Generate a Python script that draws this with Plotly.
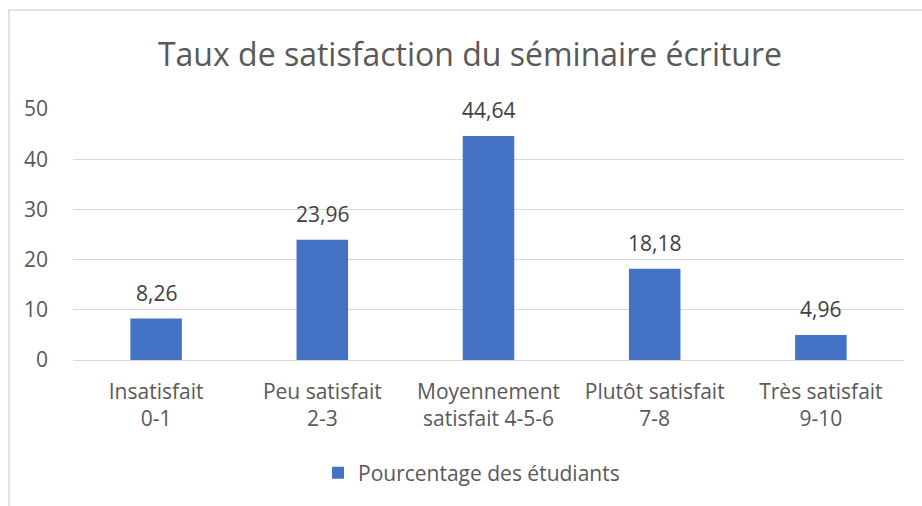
import plotly.graph_objects as go

categories = ["Insatisfait<br>0-1", "Peu satisfait<br>2-3", "Moyennement<br>satisfait 4-5-6",
              "Plutôt satisfait<br>7-8", "Très satisfait<br>9-10"]
pourcentages = [8.26, 23.96, 44.64, 18.18, 4.96]
y_ticks = [0, 10, 20, 30, 40, 50]

W, H = 922, 506
L, R, T, B = 73, 18, 109, 146
pw, ph = W - L - R, H - T - B

FONT = "Open Sans, sans-serif"
GREY = "#595959"
FS = 21

fig = go.Figure(go.Bar(
    x=categories, y=pourcentages, name="Pourcentage des étudiants",
    marker=dict(color="#4472C4", line=dict(width=0)),
    width=0.31, hoverinfo="x+y",
))

# étiquettes de données au-dessus des barres
for cat, val in zip(categories, pourcentages):
    fig.add_annotation(x=cat, y=val, text=f"{val:.2f}".replace(".", ","),
                       showarrow=False, yanchor="bottom", yshift=10,
                       font=dict(size=FS, color="#404040", family=FONT))

# cadre gris clair du graphique (coupé à droite et en bas comme la capture)
fig.add_shape(type="rect", xref="paper", yref="paper", layer="below",
              x0=(9 - L) / pw, x1=(W + 300 - L) / pw,
              y0=-2, y1=(H - B - 10) / ph,
              line=dict(color="#d9d9d9", width=1.5))

fig.update_layout(
    width=W, height=H,
    margin=dict(l=L, r=R, t=T, b=B),
    paper_bgcolor="white", plot_bgcolor="white",
    separators=", ",
    font=dict(family=FONT, color=GREY, size=FS),
    title=dict(text="Taux de satisfaction du séminaire écriture",
               x=(470 - L) / pw, xref="paper", xanchor="center", y=1 - 55 / H, yanchor="middle",
               font=dict(size=32, color=GREY, family=FONT)),
    showlegend=True,
    legend=dict(orientation="h", x=0.5 - 17 / pw, xanchor="center", y=-(473 - 360) / ph,
                yanchor="middle", font=dict(size=FS, color=GREY, family=FONT)),
)
fig.update_xaxes(showgrid=False, showline=False, ticks="", ticklabelstandoff=17,
                 tickfont=dict(size=FS, color=GREY, family=FONT))
fig.update_yaxes(range=[0, 50], tickvals=y_ticks, showgrid=True, gridcolor="#d9d9d9",
                 gridwidth=1.3, zeroline=True, zerolinecolor="#d9d9d9", zerolinewidth=1.3,
                 showline=False, ticks="", ticklabelstandoff=24,
                 tickfont=dict(size=FS, color=GREY, family=FONT))

fig.write_html("out.html", config={"displayModeBar": False},
               post_script="document.body.style.margin='0';document.body.style.overflow='hidden';")
